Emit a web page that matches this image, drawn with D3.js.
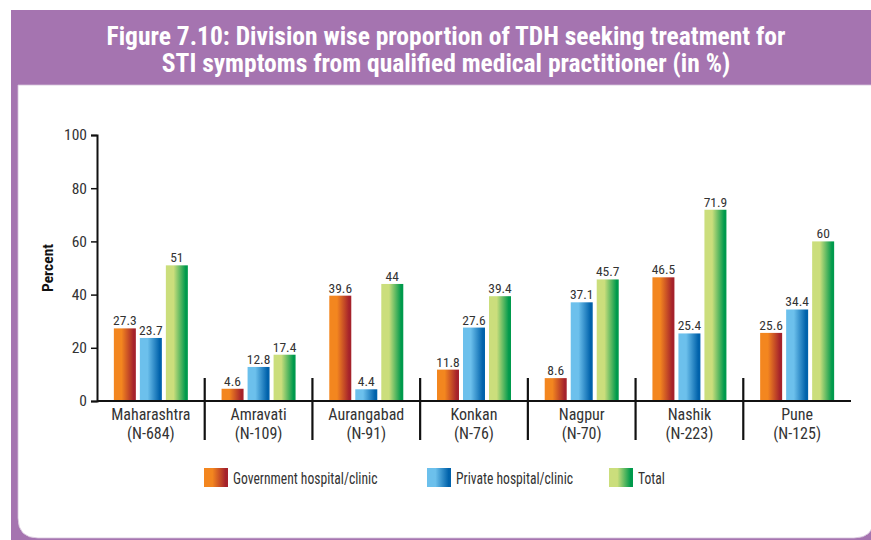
<!DOCTYPE html>
<html>
<head>
<meta charset="utf-8">
<script src="https://cdn.jsdelivr.net/npm/d3@7"></script>
<style>
  html, body { margin: 0; padding: 0; background: #fff; }
  svg { display: block; }
  text { font-family: "Liberation Sans Narrow", "Roboto Condensed", "DejaVu Sans Condensed", "Arial Narrow", sans-serif; }
</style>
</head>
<body>
<svg id="chart" width="871" height="540"></svg>
<script>
// Divisions and their sample sizes
const divisions = ["Maharashtra", "Amravati", "Aurangabad", "Konkan", "Nagpur", "Nashik", "Pune"];
const sampleSizes = ["(N-684)", "(N-109)", "(N-91)", "(N-76)", "(N-70)", "(N-223)", "(N-125)"];

// Share seeking treatment from a qualified practitioner (%)
const government = [27.3, 4.6, 39.6, 11.8, 8.6, 46.5, 25.6];
const privateSector = [23.7, 12.8, 4.4, 27.6, 37.1, 25.4, 34.4];
const total = [51, 17.4, 44, 39.4, 45.7, 71.9, 60];

const seriesNames = ["Government hospital/clinic", "Private hospital/clinic", "Total"];
const yTicks = [0, 20, 40, 60, 80, 100];

const titleLines = [
  "Figure 7.10: Division wise proportion of TDH seeking treatment for",
  "STI symptoms from qualified medical practitioner (in %)"
];

const series = [
  { name: seriesNames[0], values: government, light: "#f3861f", dark: "#a5222b" },
  { name: seriesNames[1], values: privateSector, light: "#6cc0ec", dark: "#0062ab" },
  { name: seriesNames[2], values: total, light: "#cbde7c", dark: "#009a4c" }
];

const svg = d3.select("#chart");
const W = 871, H = 540;

// Gradients for the bars (light on the left, dark on the right)
const defs = svg.append("defs");
series.forEach((s, i) => {
  const g = defs.append("linearGradient")
    .attr("id", "grad" + i)
    .attr("x1", "0%").attr("x2", "100%").attr("y1", "0%").attr("y2", "0%");
  g.append("stop").attr("offset", "0%").attr("stop-color", s.light);
  g.append("stop").attr("offset", "35%").attr("stop-color", s.light);
  g.append("stop").attr("offset", "90%").attr("stop-color", s.dark);
  g.append("stop").attr("offset", "100%").attr("stop-color", s.dark);
});

// Frame: purple band with a white rounded panel
const purple = "#a574b0";
svg.append("rect").attr("x", 11).attr("y", 10).attr("width", W - 11).attr("height", H - 10).attr("fill", purple);
svg.append("path")
  .attr("d", (() => {
    const px0 = 18, py0 = 85, px1 = 874, py1 = 538, r = 20;
    return `M${px0},${py0} H${px1} V${py1 - r} Q${px1},${py1} ${px1 - r},${py1} H${px0 + r} Q${px0},${py1} ${px0},${py1 - r} Z`;
  })())
  .attr("fill", "#fff")
  .attr("stroke", "#d6c3db")
  .attr("stroke-width", 0.8);

// Title
svg.append("g").selectAll("text").data(titleLines).join("text")
  .attr("x", 446)
  .attr("y", (d, i) => 45 + i * 27)
  .attr("text-anchor", "middle")
  .attr("fill", "#fff")
  .attr("font-weight", "bold")
  .attr("font-size", 25.5)
  .text(d => d);

// Scales
const plotLeft = 97, plotRight = 851, plotTop = 135, plotBottom = 401;
const x0 = d3.scaleBand().domain(divisions).range([plotLeft, plotRight]);
const x1 = d3.scaleBand().domain(seriesNames).range([0, 74]).paddingInner(0.154);
const y = d3.scaleLinear().domain([0, 100]).range([plotBottom, plotTop]);

const textColor = "#333";

// Y axis
const yAxis = svg.append("g")
  .attr("transform", `translate(${plotLeft},0)`)
  .call(d3.axisLeft(y).tickValues(yTicks).tickSize(6).tickPadding(4).tickFormat(d3.format("d")));
yAxis.select(".domain").attr("stroke", "#111").attr("stroke-width", 2);
yAxis.selectAll(".tick line").attr("stroke", "#111").attr("stroke-width", 1.5);
yAxis.selectAll(".tick text")
  .attr("fill", textColor)
  .attr("font-size", 15.5)
  .style("font-family", "'Liberation Sans Narrow', 'Roboto Condensed', 'DejaVu Sans Condensed', sans-serif");

svg.append("text")
  .attr("transform", `translate(53,${(plotTop + plotBottom) / 2}) rotate(-90)`)
  .attr("text-anchor", "middle")
  .attr("font-weight", "bold")
  .attr("font-size", 15.5)
  .attr("fill", "#111")
  .text("Percent");

// Bars
const groups = svg.append("g").selectAll("g").data(divisions).join("g")
  .attr("transform", d => `translate(${x0(d) + x0.bandwidth() / 2 - 37},0)`);

series.forEach((s, si) => {
  groups.append("rect")
    .attr("x", x1(s.name))
    .attr("width", x1.bandwidth())
    .attr("y", (d, i) => y(s.values[i]))
    .attr("height", (d, i) => y(0) - y(s.values[i]))
    .attr("fill", `url(#grad${si})`);
  groups.append("text")
    .attr("x", x1(s.name) + x1.bandwidth() / 2)
    .attr("y", (d, i) => y(s.values[i]) - 3)
    .attr("text-anchor", "middle")
    .attr("font-size", 13.5)
    .attr("fill", textColor)
    .text((d, i) => s.values[i]);
});

// X axis line
svg.append("line")
  .attr("x1", plotLeft).attr("x2", plotRight)
  .attr("y1", y(0)).attr("y2", y(0))
  .attr("stroke", "#111").attr("stroke-width", 2);

// Separators between divisions
svg.append("g").selectAll("line").data(divisions.slice(1)).join("line")
  .attr("x1", d => x0(d)).attr("x2", d => x0(d))
  .attr("y1", 378).attr("y2", 440)
  .attr("stroke", "#111").attr("stroke-width", 2.2);

// Category labels
const catLabels = svg.append("g").selectAll("text").data(divisions).join("text")
  .attr("x", d => x0(d) + x0.bandwidth() / 2)
  .attr("y", 420)
  .attr("text-anchor", "middle")
  .attr("font-size", 16)
  .attr("fill", textColor);
catLabels.append("tspan").text(d => d);
catLabels.append("tspan")
  .attr("x", d => x0(d) + x0.bandwidth() / 2)
  .attr("dy", 19)
  .text((d, i) => sampleSizes[i]);

// Legend
const legendX = [204, 427, 609];
const legend = svg.append("g").selectAll("g").data(series).join("g")
  .attr("transform", (d, i) => `translate(${legendX[i]},468)`);
legend.append("rect")
  .attr("width", 24).attr("height", 19)
  .attr("fill", (d, i) => `url(#grad${i})`);
legend.append("text")
  .attr("transform", "translate(29,16) scale(0.8,1)")
  .attr("font-size", 17)
  .attr("fill", textColor)
  .text(d => d.name);
</script>
</body>
</html>
